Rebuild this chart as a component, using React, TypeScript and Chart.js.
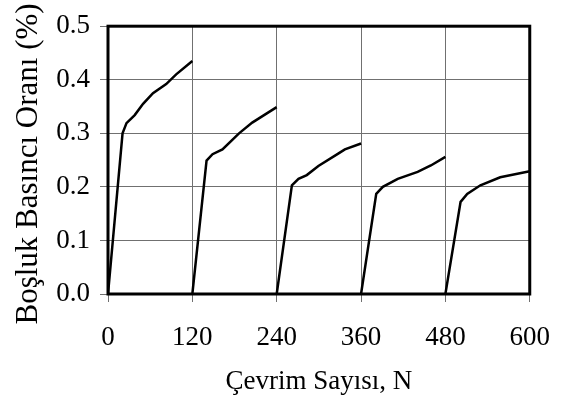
import React, { useEffect, useRef } from "react";
import { Chart, registerables } from "chart.js";

Chart.register(...registerables);

// Cycle blocks: number of cycles (N) and pore pressure ratio (%)
const cycle1N = [0, 20.7, 26.3, 38, 49.9, 64, 82.8, 97, 120];
const cycle1V = [0, 0.300, 0.319, 0.334, 0.355, 0.375, 0.392, 0.410, 0.435];
const cycle2N = [120, 140.2, 148.7, 162.8, 186.4, 205.2, 240];
const cycle2V = [0, 0.249, 0.261, 0.270, 0.300, 0.320, 0.349];
const cycle3N = [240, 261.6, 271, 282.8, 299.3, 327.5, 337, 360];
const cycle3V = [0, 0.203, 0.215, 0.222, 0.239, 0.262, 0.270, 0.281];
const cycle4N = [360, 381.6, 391, 412.2, 440.5, 459.3, 480];
const cycle4V = [0, 0.187, 0.200, 0.215, 0.228, 0.240, 0.256];
const cycle5N = [480, 501.6, 511, 529.8, 558, 600];
const cycle5V = [0, 0.172, 0.187, 0.203, 0.218, 0.229];

const xTicks = [0, 120, 240, 360, 480, 600];
const yTicks = [0, 0.1, 0.2, 0.3, 0.4, 0.5];

const xTitle = "Çevrim Sayısı, N";
const yTitle = "Boşluk Basıncı Oranı (%) ";

const FONT = "'Liberation Serif', 'Times New Roman', serif";

const toPoints = (xs: number[], ys: number[]) => xs.map((x, i) => ({ x, y: ys[i] }));

const frame = {
  id: "frame",
  afterDatasetsDraw(chart: any) {
    const { ctx, chartArea: a } = chart;
    ctx.save();
    ctx.strokeStyle = "#000";
    ctx.lineWidth = 3;
    ctx.strokeRect(a.left, a.top, a.right - a.left, a.bottom - a.top);
    ctx.restore();
  },
};

export default function App() {
  const ref = useRef<HTMLCanvasElement | null>(null);
  useEffect(() => {
    if (!ref.current) return;
    const series = [
      toPoints(cycle1N, cycle1V),
      toPoints(cycle2N, cycle2V),
      toPoints(cycle3N, cycle3V),
      toPoints(cycle4N, cycle4V),
      toPoints(cycle5N, cycle5V),
    ];
    const chart = new Chart(ref.current, {
      type: "scatter",
      data: {
        datasets: series.map((d) => ({
          data: d,
          showLine: true,
          borderColor: "#000",
          borderWidth: 2.5,
          pointRadius: 0,
          tension: 0,
          fill: false,
        })),
      },
      options: {
        responsive: false,
        animation: false,
        layout: { padding: { top: 21, right: 36, left: 0, bottom: 0 } },
        plugins: { legend: { display: false }, tooltip: { enabled: false } },
        scales: {
          x: {
            type: "linear",
            min: 0,
            max: 600,
            afterBuildTicks: (s: any) => {
              s.ticks = xTicks.map((v) => ({ value: v }));
            },
            afterFit: (s: any) => {
              s.height = 104;
            },
            border: { display: false },
            grid: { color: "#707070", lineWidth: 1, tickLength: 8, drawTicks: true },
            ticks: {
              color: "#000",
              padding: 20,
              maxRotation: 0,
              font: { family: FONT, size: 27 },
            },
            title: {
              display: true,
              text: xTitle,
              color: "#000",
              font: { family: FONT, size: 27, lineHeight: 1.2 },
              padding: { top: 0, bottom: 0 },
            },
          },
          y: {
            type: "linear",
            min: 0,
            max: 0.5,
            afterBuildTicks: (s: any) => {
              s.ticks = yTicks.map((v) => ({ value: v }));
            },
            afterFit: (s: any) => {
              s.width = 108;
            },
            border: { display: false },
            grid: { color: "#707070", lineWidth: 1, tickLength: 8, drawTicks: true },
            ticks: {
              color: "#000",
              padding: 10,
              font: { family: FONT, size: 27 },
              callback: (v: any) => Number(v).toFixed(1),
            },
            title: {
              display: true,
              text: yTitle,
              color: "#000",
              font: { family: FONT, size: 31, lineHeight: 1.2 },
              padding: { top: 10, bottom: 0 },
            },
          },
        },
      },
      plugins: [frame],
    });
    return () => chart.destroy();
  }, []);
  return (
    <div style={{ position: "absolute", left: 0, top: 0, width: 570, height: 398, background: "#fff" }}>
      <canvas ref={ref} width={570} height={398} style={{ display: "block" }} />
    </div>
  );
}
